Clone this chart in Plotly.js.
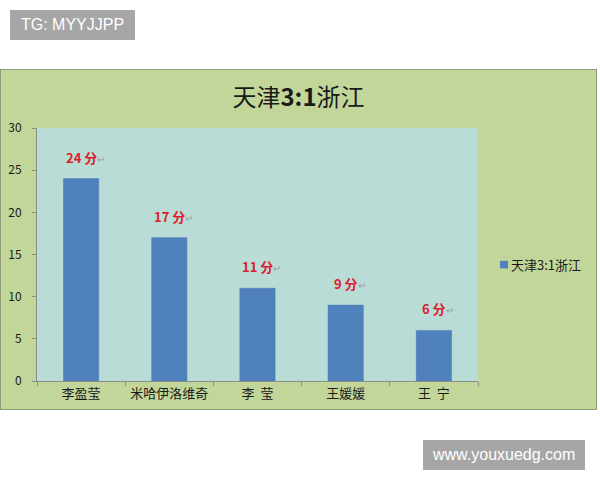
<!DOCTYPE html>
<html><head><meta charset="utf-8">
<script src="https://cdn.plot.ly/plotly-3.0.1.min.js"></script>
<style>
html,body{margin:0;padding:0;background:#fff;width:600px;height:480px;overflow:hidden;}
#chart{position:absolute;left:0;top:69px;width:597px;height:341px;box-sizing:border-box;border:1px solid #8d9c78;}
.wm{position:absolute;background:#a6a6a6;color:#fff;font-family:"Liberation Sans",Arial,sans-serif;font-size:16px;line-height:30px;height:30px;padding:0 10px;white-space:nowrap;}
</style></head>
<body>
<div class="wm" style="left:10px;top:10px;padding:0 11px;">TG: MYYJJPP</div>
<div id="chart"></div>
<div class="wm" style="left:423px;top:440px;">www.youxuedg.com</div>
<script>
const categories = ["李盈莹", "米哈伊洛维奇", "李  莹", "王媛媛", "王  宁"];
const points = [24, 17, 11, 9, 6];
const seriesName = "天津3:1浙江";
const unit = "分";

const annotations = categories.map((c, i) => ({
  x: c, y: points[i], xref: "x", yref: "y",
  text: "<b>" + points[i] + "&nbsp;" + unit + "</b><span style='color:#a0a0a0;font-size:10px'>↵</span>",
  showarrow: false, yanchor: "bottom", yshift: 10, xshift: 4,
  font: {family: "Noto Sans CJK SC, sans-serif", size: 13, color: "#d9202c"}
}));
// legend entry drawn manually for exact placement
annotations.push({
  x: 1.07, y: 0.46, xref: "paper", yref: "paper", xanchor: "left", yanchor: "middle",
  text: seriesName, showarrow: false,
  font: {family: "Noto Sans CJK SC, sans-serif", size: 13, color: "#1a1a1a"}
});

const trace = {
  type: "bar", x: categories, y: points, name: seriesName,
  width: 0.4,
  marker: {color: "#4f81bd", line: {color: "#4a78b0", width: 0.5}},
  showlegend: false
};

const layout = {
  width: 595, height: 339,
  margin: {l: 36, r: 118, t: 58, b: 28, autoexpand: false},
  paper_bgcolor: "#c2d699",
  plot_bgcolor: "#b9ddd6",
  font: {family: "Noto Sans CJK SC, sans-serif", size: 13, color: "#1a1a1a"},
  title: {
    text: "天津<b>3:1</b>浙江",
    x: 0.5, xref: "container", xanchor: "center",
    y: 0.92, yref: "container", yanchor: "middle",
    font: {family: "Noto Sans CJK SC, sans-serif", size: 24, color: "#1a1a1a"}
  },
  xaxis: {
    type: "category", showgrid: false, zeroline: false, automargin: false,
    showline: true, linecolor: "#8c8c8c", linewidth: 1,
    ticks: "outside", tickson: "boundaries", ticklen: 4, tickcolor: "#8c8c8c",
    tickangle: 0,
    tickfont: {size: 13, color: "#1a1a1a"}
  },
  yaxis: {
    range: [0, 30], dtick: 5, showgrid: false, zeroline: false, automargin: false,
    showline: true, linecolor: "#8c8c8c", linewidth: 1,
    ticks: "outside", ticklen: 4, tickcolor: "#8c8c8c",
    ticklabelstandoff: 8,
    tickfont: {size: 12, color: "#1a1a1a"}
  },
  shapes: [{
    type: "rect", xref: "paper", yref: "paper",
    x0: 1.05, x1: 1.068, y0: 0.445, y1: 0.475,
    fillcolor: "#4f81bd", line: {width: 0}
  }],
  showlegend: false,
  bargap: 0.6,
  annotations: annotations
};

Plotly.newPlot("chart", [trace], layout, {displayModeBar: false, staticPlot: true});
</script>
</body></html>
